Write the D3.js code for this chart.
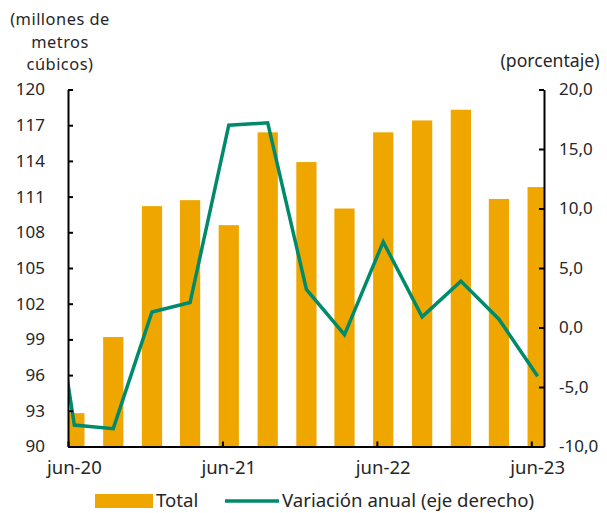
<!DOCTYPE html>
<html>
<head>
<meta charset="utf-8">
<script src="https://cdn.jsdelivr.net/npm/d3@7"></script>
<style>
  html, body { margin: 0; padding: 0; background: #fff; }
  svg { display: block; }
  text { font-family: "Noto Sans", "Open Sans", sans-serif; fill: #262626; }
</style>
</head>
<body>
<svg id="chart" width="607" height="513"></svg>
<script>
// ---- data ----
const periods = ["2020-03","2020-06","2020-09","2020-12","2021-03","2021-06","2021-09","2021-12","2022-03","2022-06","2022-09","2022-12","2023-03","2023-06"];
const total = [null, 92.8, 99.2, 110.2, 110.7, 108.6, 116.4, 113.9, 110.0, 116.4, 117.4, 118.3, 110.8, 111.8];
const variation = [13.0, -8.2, -8.5, 1.3, 2.1, 17.0, 17.2, 3.2, -0.6, 7.2, 0.9, 3.9, 0.7, -4.1];
const xTickMonths = ["2020-06","2021-06","2022-06","2023-06"];
const xTickLabels = ["jun-20","jun-21","jun-22","jun-23"];
const leftTicks = [90, 93, 96, 99, 102, 105, 108, 111, 114, 117, 120];
const rightTicks = [-10, -5, 0, 5, 10, 15, 20];
const leftTitle = ["(millones de", "metros", "cúbicos)"];
const rightTitle = "(porcentaje)";
const legendLabels = ["Total", "Variación anual (eje derecho)"];

// ---- helpers ----
const parseMonth = s => { const [y, m] = s.split("-").map(Number); return new Date(y, m - 1, 1); };
const midMonth = s => { const a = parseMonth(s); const b = new Date(a.getFullYear(), a.getMonth() + 1, 1); return new Date((+a + +b) / 2); };
const fmtR = d => d.toFixed(1).replace(".", ",");

const svg = d3.select("#chart");
const L = 68, R = 544, T = 89.5, B = 446.5;
const barColor = "#EFA700", lineColor = "#008A6C";

const x = d3.scaleTime()
  .domain([parseMonth("2020-06"), parseMonth("2023-07")])
  .range([L, R]);
const yL = d3.scaleLinear().domain([90, 120]).range([B, T]);
const yR = d3.scaleLinear().domain([-10, 20]).range([B, T]);

svg.append("clipPath").attr("id", "plot")
  .append("rect").attr("x", L).attr("y", T - 5).attr("width", R - L).attr("height", B - T + 5);

const step = x(midMonth("2020-09")) - x(midMonth("2020-06"));
const bw = step * 0.52;

const g = svg.append("g").attr("clip-path", "url(#plot)");
const data = periods.map((p, i) => ({ p, t: total[i], v: variation[i], d: midMonth(p) }));

g.selectAll("rect.bar").data(data.filter(d => d.t != null)).join("rect")
  .attr("class", "bar")
  .attr("x", d => x(d.d) - bw / 2)
  .attr("width", bw)
  .attr("y", d => yL(d.t))
  .attr("height", d => yL(90) - yL(d.t))
  .attr("fill", barColor);

g.append("path").datum(data)
  .attr("fill", "none")
  .attr("stroke", lineColor)
  .attr("stroke-width", 3.5)
  .attr("stroke-linejoin", "miter")
  .attr("d", d3.line().x(d => x(d.d)).y(d => yR(d.v)));

// ---- axes ----
const axL = svg.append("g").attr("transform", `translate(${L},0)`)
  .call(d3.axisLeft(yL).tickValues(leftTicks).tickSizeInner(-5).tickSizeOuter(0).tickPadding(23).tickFormat(d3.format("d")));
const axR = svg.append("g").attr("transform", `translate(${R},0)`)
  .call(d3.axisRight(yR).tickValues(rightTicks).tickSizeInner(-5).tickSizeOuter(0).tickPadding(15).tickFormat(fmtR));
const axB = svg.append("g").attr("transform", `translate(0,${B})`)
  .call(d3.axisBottom(x).tickValues(xTickMonths.map(parseMonth)).tickSizeInner(-5).tickSizeOuter(0).tickFormat(""));

[axL, axR, axB].forEach(a => {
  a.select(".domain").attr("stroke", "#000").attr("stroke-width", 2);
  a.selectAll(".tick line").attr("stroke", "#000").attr("stroke-width", 2);
  a.selectAll(".tick text").style("font-size", "17px").attr("fill", "#262626");
});

svg.append("g").selectAll("text").data(xTickMonths).join("text")
  .attr("x", d => x(midMonth(d)))
  .attr("y", 474)
  .attr("text-anchor", "middle")
  .style("font-size", "18.5px")
  .text((d, i) => xTickLabels[i]);

// ---- titles ----
svg.append("g").selectAll("text").data(leftTitle).join("text")
  .attr("x", 60).attr("y", (d, i) => 25 + i * 22.5)
  .attr("text-anchor", "middle")
  .style("font-size", "16.4px")
  .style("letter-spacing", "0.5px")
  .text(d => d);
svg.append("text").attr("x", 550).attr("y", 67)
  .attr("text-anchor", "middle").style("font-size", "17.6px").text(rightTitle);

// ---- legend ----
const lg = svg.append("g");
lg.append("rect").attr("x", 95).attr("y", 494).attr("width", 58).attr("height", 14).attr("fill", barColor);
lg.append("text").attr("x", 156).attr("y", 507).style("font-size", "18.6px").text(legendLabels[0]);
lg.append("line").attr("x1", 225).attr("x2", 279).attr("y1", 501).attr("y2", 501)
  .attr("stroke", lineColor).attr("stroke-width", 3.5);
lg.append("text").attr("x", 282).attr("y", 507).style("font-size", "18.6px").text(legendLabels[1]);
</script>
</body>
</html>
